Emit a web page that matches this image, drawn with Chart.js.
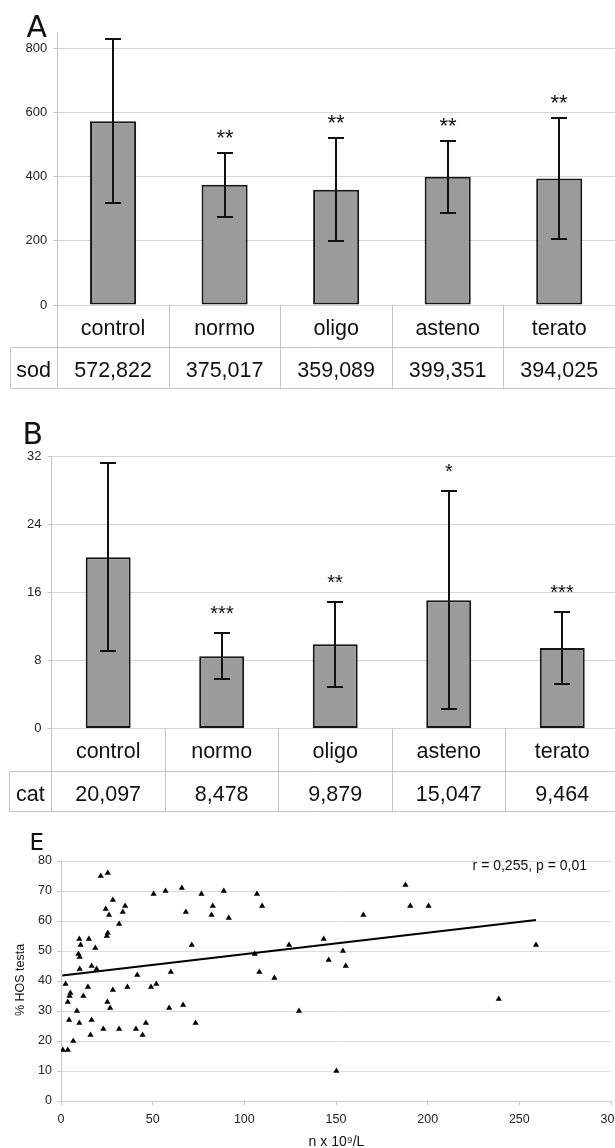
<!DOCTYPE html>
<html><head><meta charset="utf-8">
<script src="https://cdn.jsdelivr.net/npm/chart.js@4/dist/chart.umd.min.js"></script>
<style>
html,body{margin:0;padding:0;background:#fff;overflow:hidden;width:615px;height:1148px;position:relative;}
canvas{position:absolute;left:0;}
#ca{top:0}#cb{top:400px}#ce{top:820px}
</style></head><body>
<canvas id="ca" width="615" height="400"></canvas>
<canvas id="cb" width="620" height="420"></canvas>
<canvas id="ce" width="615" height="328"></canvas>
<script>
// ---------- data ----------
const categories = ['control', 'normo', 'oligo', 'asteno', 'terato'];

const sodMeans  = [572.822, 375.017, 359.089, 399.351, 394.025];
const sodSD     = [256, 100, 160, 112, 188];
const sodLabels = ['572,822', '375,017', '359,089', '399,351', '394,025'];
const sodStars  = ['', '**', '**', '**', '**'];
const sodTicks  = [0, 200, 400, 600, 800];

const catMeans  = [20.097, 8.478, 9.879, 15.047, 9.464];
const catSD     = [11.05, 2.7, 5.0, 12.8, 4.25];
const catLabels = ['20,097', '8,478', '9,879', '15,047', '9,464'];
const catStars  = ['', '***', '**', '*', '***'];
const catTicks  = [0, 8, 16, 24, 32];

const hosX = [1.0,3.7,2.5,4.7,5.1,3.7,4.4,6.7,8.7,10.0,
  10.2,9.5,10.2,10.0,10.7,12.2,14.7,15.2,16.1,16.7,
  16.7,18.7,19.4,23.1,21.7,25.5,24.4,26.2,25.5,25.0,
  25.3,26.8,28.3,28.3,31.7,31.7,33.7,35.0,36.2,41.6,
  40.9,44.5,46.3,49.1,50.5,52.0,57.0,59.0,59.9,65.9,
  66.6,68.1,71.3,73.4,76.6,82.1,82.8,88.8,91.5,105.7,
  106.9,108.2,109.7,116.4,124.4,129.8,143.3,146.0,150.2,153.8,
  155.3,164.9,187.9,190.5,200.5,238.8,259.1];
const hosY = [17,17,39,35,36,33,27,20,30,26,
  44,49,48,54,52,35,38,54,22,27,
  45,51,44,24,75,76,64,62,56,55,
  33,31,67,37,59,24,63,65,38,42,
  24,22,26,38,69,39,70,31,43,71,
  32,63,52,26,69,62,65,70,61,49,
  69,43,65,41,52,30,54,47,10,50,
  45,62,72,65,65,34,52];
const trendX = [0.7, 259.1];
const trendY = [41.8, 60.3];
const eXTicks = [0, 50, 100, 150, 200, 250, 300];
const eYTicks = [0, 10, 20, 30, 40, 50, 60, 70, 80];

// ---------- helpers ----------
Chart.defaults.font.family = '"Liberation Sans", Arial, sans-serif';
const FONT = '"Liberation Sans", Arial, sans-serif';
const crisp = v => Math.round(v) + 0.5;

function barPanelPlugin(cfg) {
  return {
    id: 'panel' + cfg.letter,
    afterDatasetsDraw(chart) {
      const ctx = chart.ctx, y = chart.scales.y;
      const meta = chart.getDatasetMeta(0);
      ctx.save();
      ctx.strokeStyle = '#111'; ctx.lineWidth = 2; ctx.fillStyle = '#111';
      cfg.means.forEach((m, i) => {
        const px = Math.round(meta.data[i].x);
        const top = Math.round(y.getPixelForValue(m + cfg.sd[i]));
        const bot = Math.round(y.getPixelForValue(m - cfg.sd[i]));
        ctx.beginPath();
        ctx.moveTo(px, top); ctx.lineTo(px, bot);
        ctx.moveTo(px - 8, top); ctx.lineTo(px + 8, top);
        ctx.moveTo(px - 8, bot); ctx.lineTo(px + 8, bot);
        ctx.stroke();
        if (cfg.stars[i]) {
          ctx.font = cfg.starFont; ctx.textAlign = 'center'; ctx.textBaseline = 'alphabetic';
          ctx.fillText(cfg.stars[i], px, top - cfg.starGap);
        }
      });
      ctx.restore();
    },
    afterDraw(chart) {
      const ctx = chart.ctx, ca = chart.chartArea, xs = chart.scales.x;
      const n = cfg.categories.length;
      const w = (ca.right - ca.left) / n;
      const y0 = ca.bottom, y1 = y0 + 42.4, y2 = y1 + 40.3;
      ctx.save();
      ctx.strokeStyle = '#c4c4c4'; ctx.lineWidth = 1;
      ctx.beginPath();
      for (let i = 0; i < n; i++) {
        const xx = crisp(ca.left + i * w);
        ctx.moveTo(xx, y0); ctx.lineTo(xx, y2);
      }
      ctx.moveTo(crisp(cfg.leftBorder), crisp(y1)); ctx.lineTo(chart.width, crisp(y1));
      ctx.moveTo(crisp(cfg.leftBorder), crisp(y2)); ctx.lineTo(chart.width, crisp(y2));
      ctx.moveTo(crisp(cfg.leftBorder), crisp(y1)); ctx.lineTo(crisp(cfg.leftBorder), crisp(y2));
      ctx.stroke();
      ctx.fillStyle = '#111';
      ctx.font = '21.5px ' + FONT; ctx.textAlign = 'center'; ctx.textBaseline = 'alphabetic';
      cfg.categories.forEach((c, i) => {
        const cx = xs.getPixelForValue(i);
        ctx.fillText(c, cx, y0 + 29.5);
        ctx.fillText(cfg.values[i], cx, y0 + 72);
      });
      ctx.fillText(cfg.rowLabel, (cfg.leftBorder + ca.left) / 2, y0 + 72);
      ctx.font = '30px "DejaVu Sans", sans-serif'; ctx.textAlign = 'left';
      ctx.fillText(cfg.letter, cfg.letterX, cfg.letterY);
      ctx.restore();
    }
  };
}

function barChart(id, cfg) {
  return new Chart(document.getElementById(id), {
    type: 'bar',
    data: {
      labels: cfg.categories,
      datasets: [{
        data: cfg.means,
        backgroundColor: '#9b9b9b',
        borderColor: '#161616',
        borderWidth: 2,
        borderSkipped: false,
        categoryPercentage: 1,
        barPercentage: cfg.barPct
      }]
    },
    options: {
      responsive: false, animation: false, devicePixelRatio: 1, events: [],
      layout: { padding: cfg.padding },
      plugins: { legend: { display: false }, tooltip: { enabled: false } },
      scales: {
        x: { display: false },
        y: {
          min: 0, max: cfg.yMax,
          afterBuildTicks: s => { s.ticks = cfg.ticks.map(v => ({ value: v })); },
          afterFit: s => { s.width = cfg.axisX; s.paddingTop = 0; s.paddingBottom = 0; },
          grid: { color: '#d4d4d4', lineWidth: 1, tickLength: 4, tickColor: '#c4c4c4' },
          border: { color: '#c4c4c4', width: 1 },
          ticks: { padding: 6, color: '#222', font: { size: 13 } }
        }
      }
    },
    plugins: [barPanelPlugin(cfg)]
  });
}

barChart('ca', {
  letter: 'A', letterX: 26.5, letterY: 37,
  categories, means: sodMeans, sd: sodSD, values: sodLabels, stars: sodStars,
  ticks: sodTicks, yMax: 850, rowLabel: 'sod',
  axisX: 57.3, leftBorder: 10, barPct: 0.413,
  padding: { top: 32.2, bottom: 95, left: 0, right: 0 },
  starFont: '22px ' + FONT, starGap: 8
});

barChart('cb', {
  letter: 'B', letterX: 22.5, letterY: 43.5,
  categories, means: catMeans, sd: catSD, values: catLabels, stars: catStars,
  ticks: catTicks, yMax: 32, rowLabel: 'cat',
  axisX: 51.4, leftBorder: 9.4, barPct: 0.396,
  padding: { top: 56, bottom: 91.5, left: 0, right: 1 },
  starFont: '20px ' + FONT, starGap: 13
});

// ---------- panel E ----------
const hosPoints = hosX.map((x, i) => ({ x, y: hosY[i] }));
const trendPoints = trendX.map((x, i) => ({ x, y: trendY[i] }));

const ePlugin = {
  id: 'panelE',
  afterDraw(chart) {
    const ctx = chart.ctx;
    ctx.save();
    ctx.fillStyle = '#111';
    ctx.font = '23px "DejaVu Sans", sans-serif'; ctx.textAlign = 'left'; ctx.textBaseline = 'alphabetic';
    ctx.fillText('E', 29.4, 30);
    ctx.font = '14px ' + FONT; ctx.textAlign = 'right';
    ctx.fillText('r = 0,255, p = 0,01', 587, 50);
    ctx.textAlign = 'center';
    ctx.fillText('n x 10\u2079/L', 336.5, 326);
    ctx.translate(21, 160); ctx.rotate(-Math.PI / 2);
    ctx.font = '12.5px ' + FONT; ctx.textBaseline = 'middle';
    ctx.fillText('% HOS testa', 0, 0);
    ctx.restore();
  }
};

new Chart(document.getElementById('ce'), {
  type: 'scatter',
  data: {
    datasets: [
      { data: hosPoints, pointStyle: 'triangle', pointRadius: 3.6, backgroundColor: '#000', borderColor: '#000', borderWidth: 0 },
      { type: 'line', data: trendPoints, borderColor: '#000', borderWidth: 2, pointRadius: 0, fill: false, showLine: true }
    ]
  },
  options: {
    responsive: false, animation: false, devicePixelRatio: 1, events: [],
    layout: { padding: { top: 41, right: 3.3, left: 0, bottom: 0 } },
    plugins: { legend: { display: false }, tooltip: { enabled: false } },
    scales: {
      x: {
        type: 'linear', min: 0, max: 300,
        afterBuildTicks: s => { s.ticks = eXTicks.map(v => ({ value: v })); },
        afterFit: s => { s.height = 47; s.paddingLeft = 0; s.paddingRight = 0; },
        grid: { drawOnChartArea: false, tickLength: 4, color: '#c8c8c8' },
        border: { color: '#c8c8c8' },
        ticks: { padding: 7, color: '#222', font: { size: 12.5 }, maxRotation: 0, autoSkip: false }
      },
      y: {
        min: 0, max: 80,
        afterBuildTicks: s => { s.ticks = eYTicks.map(v => ({ value: v })); },
        afterFit: s => { s.width = 61; s.paddingTop = 0; s.paddingBottom = 0; },
        grid: { color: '#dcdcdc', tickLength: 4, tickColor: '#c8c8c8' },
        border: { color: '#c8c8c8' },
        ticks: { padding: 5, color: '#222', font: { size: 12.5 } }
      }
    }
  },
  plugins: [ePlugin]
});
</script>
</body></html>
